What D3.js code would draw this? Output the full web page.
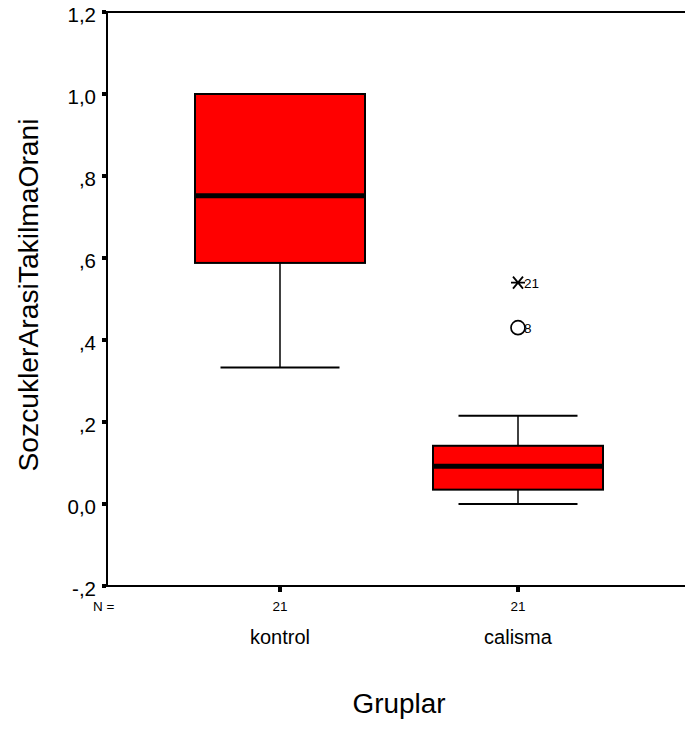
<!DOCTYPE html>
<html>
<head>
<meta charset="utf-8">
<script src="https://cdn.jsdelivr.net/npm/d3@7"></script>
<style>
  html, body { margin: 0; padding: 0; background: #fff; }
  svg { display: block; }
  text { font-family: "Liberation Sans", Arial, sans-serif; fill: #000; }
</style>
</head>
<body>
<svg id="chart" width="685" height="731"></svg>
<script>
// ---- data ----
const categories = ["kontrol", "calisma"];
const nCounts = [21, 21];
const whiskerLow = [0.333, 0.0];
const q1 = [0.588, 0.035];
const median = [0.752, 0.092];
const q3 = [1.0, 0.142];
const whiskerHigh = [1.0, 0.215];
const outlierCats = ["calisma", "calisma"];
const outlierValues = [0.43, 0.54];
const outlierLabels = ["8", "21"];
const outlierTypes = ["circle", "extreme"];
const yTickValues = [-0.2, 0.0, 0.2, 0.4, 0.6, 0.8, 1.0, 1.2];
const yTickLabels = ["-,2", "0,0", ",2", ",4", ",6", ",8", "1,0", "1,2"];
const xTitle = "Gruplar";
const yTitle = "SozcuklerArasiTakilmaOrani";

// ---- layout ----
const svg = d3.select("#chart");
const plotLeft = 107, plotRight = 685, plotTop = 12, plotBottom = 586;

const y = d3.scaleLinear().domain([-0.2, 1.2]).range([plotBottom, plotTop]);
const x = d3.scalePoint().domain(categories).range([280, 518]);

const boxW = 170, capW = 119;

function fitWidth(sel, width) {
  sel.attr("textLength", width).attr("lengthAdjust", "spacingAndGlyphs");
}

// frame
svg.append("line").attr("x1", plotLeft).attr("x2", plotRight).attr("y1", plotTop).attr("y2", plotTop)
  .attr("stroke", "#000").attr("stroke-width", 2);
svg.append("line").attr("x1", plotLeft).attr("x2", plotRight).attr("y1", plotBottom).attr("y2", plotBottom)
  .attr("stroke", "#000").attr("stroke-width", 2);
svg.append("line").attr("x1", plotLeft).attr("x2", plotLeft).attr("y1", plotTop - 1).attr("y2", plotBottom + 1)
  .attr("stroke", "#000").attr("stroke-width", 2);

// y axis labels via d3 axis
const yAxis = d3.axisLeft(y).tickValues(yTickValues)
  .tickFormat((d, i) => yTickLabels[i]).tickSize(0).tickPadding(11);
const gy = svg.append("g").attr("transform", `translate(${plotLeft},0)`).call(yAxis);
gy.select(".domain").remove();
gy.selectAll("text").attr("font-size", 20.5).attr("dy", "0.45em")
  .style("font-family", "'Liberation Sans', Arial, sans-serif").attr("fill", "#000");
// y tick squares
svg.append("g").selectAll("rect").data(yTickValues).join("rect")
  .attr("x", plotLeft - 5).attr("y", d => y(d) - 2).attr("width", 4).attr("height", 4).attr("fill", "#000");

// x tick squares
svg.append("g").selectAll("rect").data(categories).join("rect")
  .attr("x", d => x(d) - 2).attr("y", plotBottom + 1).attr("width", 4).attr("height", 5).attr("fill", "#000");

// N = row
svg.append("text").attr("x", 93).attr("y", 611).attr("font-size", 13.5).text("N =");
svg.append("g").selectAll("text").data(categories).join("text")
  .attr("x", d => x(d)).attr("y", 611).attr("text-anchor", "middle").attr("font-size", 13.5)
  .text((d, i) => nCounts[i]);

// category labels
svg.append("g").selectAll("text").data(categories).join("text")
  .attr("x", d => x(d)).attr("y", 644).attr("text-anchor", "middle").attr("font-size", 20)
  .text(d => d);

// axis titles
svg.append("text").attr("x", 399).attr("y", 713).attr("text-anchor", "middle")
  .attr("font-size", 27).text(xTitle).call(fitWidth, 93);
svg.append("text").attr("transform", "translate(38,295) rotate(-90)")
  .attr("text-anchor", "middle").attr("font-size", 28).text(yTitle).call(fitWidth, 353);

// boxes
const g = svg.append("g");
categories.forEach((c, i) => {
  const cx = x(c);
  g.append("line").attr("x1", cx).attr("x2", cx).attr("y1", y(whiskerHigh[i])).attr("y2", y(q3[i]))
    .attr("stroke", "#111").attr("stroke-width", 1.6);
  g.append("line").attr("x1", cx).attr("x2", cx).attr("y1", y(q1[i])).attr("y2", y(whiskerLow[i]))
    .attr("stroke", "#111").attr("stroke-width", 1.6);
  [whiskerHigh[i], whiskerLow[i]].forEach(v => {
    g.append("line").attr("x1", cx - capW / 2).attr("x2", cx + capW / 2).attr("y1", y(v)).attr("y2", y(v))
      .attr("stroke", "#000").attr("stroke-width", 2);
  });
  g.append("rect").attr("x", cx - boxW / 2).attr("y", y(q3[i])).attr("width", boxW)
    .attr("height", y(q1[i]) - y(q3[i])).attr("fill", "#ff0000").attr("stroke", "#000").attr("stroke-width", 2);
  g.append("line").attr("x1", cx - boxW / 2).attr("x2", cx + boxW / 2).attr("y1", y(median[i])).attr("y2", y(median[i]))
    .attr("stroke", "#000").attr("stroke-width", 5);
});

// outliers
outlierValues.forEach((v, i) => {
  const cx = x(outlierCats[i]), cy = y(v);
  if (outlierTypes[i] === "circle") {
    g.append("circle").attr("cx", cx).attr("cy", cy).attr("r", 7)
      .attr("fill", "none").attr("stroke", "#000").attr("stroke-width", 1.7);
  } else {
    const s = 6;
    g.append("path")
      .attr("d", `M${cx - 7},${cy}H${cx + 7}M${cx - 5},${cy - s}L${cx + 5},${cy + s}M${cx - 5},${cy + s}L${cx + 5},${cy - s}`)
      .attr("stroke", "#000").attr("stroke-width", 1.8).attr("fill", "none");
  }
  g.append("text").attr("x", cx + 6).attr("y", cy + 5).attr("font-size", 13.5).text(outlierLabels[i]);
});
</script>
</body>
</html>
